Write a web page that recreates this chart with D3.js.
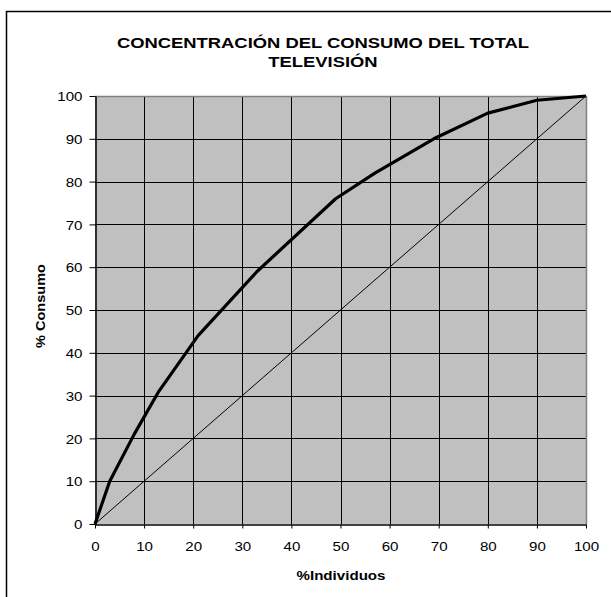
<!DOCTYPE html>
<html>
<head>
<meta charset="utf-8">
<script src="https://cdn.jsdelivr.net/npm/d3@7"></script>
<style>
  html, body { margin: 0; padding: 0; background: #fff; }
  svg { display: block; }
  text { font-family: Arial, "Liberation Sans", sans-serif; fill: #000; }
</style>
</head>
<body>
<svg id="chart" width="611" height="597"></svg>
<script>
// Lorenz-style concentration curve: % of individuals vs % of consumption
const individuos = [0, 3, 8, 13, 21, 33, 49, 57, 69, 80, 90, 100];
const consumo    = [0, 10, 21, 31, 44, 59, 76, 82, 90, 96, 99, 100];
// line of perfect equality
const igualdadX = [0, 100];
const igualdadY = [0, 100];
const ticks = [0, 10, 20, 30, 40, 50, 60, 70, 80, 90, 100];

const titulo = ["CONCENTRACIÓN DEL CONSUMO DEL TOTAL", "TELEVISIÓN"];
const ejeX = "%Individuos";
const ejeY = "% Consumo";

const svg = d3.select("#chart");
const plot = { left: 95, right: 586, top: 96, bottom: 524 };

const x = d3.scaleLinear().domain([0, 100]).range([plot.left, plot.right]);
const y = d3.scaleLinear().domain([0, 100]).range([plot.bottom, plot.top]);

// chart frame
svg.append("rect")
  .attr("x", 6.5).attr("y", 11.5)
  .attr("width", 700).attr("height", 700)
  .attr("fill", "#fff").attr("stroke", "#000").attr("stroke-width", 1.5);

// plot background
svg.append("rect")
  .attr("x", plot.left).attr("y", plot.top)
  .attr("width", plot.right - plot.left).attr("height", plot.bottom - plot.top)
  .attr("fill", "#c0c0c0");

// grid lines
const grid = svg.append("g");
grid.selectAll(".gx").data(ticks.slice(1, -1)).join("line")
  .attr("x1", d => Math.round(x(d)) + 0.5).attr("x2", d => Math.round(x(d)) + 0.5)
  .attr("y1", plot.top).attr("y2", plot.bottom)
  .attr("stroke", "#000").attr("stroke-width", 1);
grid.selectAll(".gy").data(ticks.slice(1, -1)).join("line")
  .attr("y1", d => Math.round(y(d)) + 0.5).attr("y2", d => Math.round(y(d)) + 0.5)
  .attr("x1", plot.left).attr("x2", plot.right)
  .attr("stroke", "#000").attr("stroke-width", 1);

// top and right edges of plot area
svg.append("path")
  .attr("d", `M${plot.left},${plot.top + 0.5}H${plot.right + 0.5}V${plot.bottom}`)
  .attr("fill", "none").attr("stroke", "#808080").attr("stroke-width", 1.5);

// axes
const digitW = 8.4;
const xAxis = svg.append("g")
  .attr("transform", `translate(0,${plot.bottom + 0.5})`)
  .call(d3.axisBottom(x).tickValues(ticks).tickSize(4).tickPadding(0).tickSizeOuter(0));
const yAxis = svg.append("g")
  .attr("transform", `translate(${plot.left + 0.5},0)`)
  .call(d3.axisLeft(y).tickValues(ticks).tickSize(6).tickPadding(0).tickSizeOuter(0));

[xAxis, yAxis].forEach(g => {
  g.select(".domain").attr("stroke", "#000").attr("stroke-width", 1.5);
  g.selectAll(".tick line").attr("stroke", "#000");
  g.selectAll(".tick text")
    .attr("font-size", 13.5)
    .attr("font-family", "Arial, 'Liberation Sans', sans-serif")
    .attr("textLength", d => String(d).length * digitW)
    .attr("lengthAdjust", "spacingAndGlyphs");
});
xAxis.selectAll(".tick text").attr("y", 26).attr("dy", null);
yAxis.selectAll(".tick text").attr("x", -13).attr("dy", "0.35em");

// curves
const line = d3.line().x(d => x(d[0])).y(d => y(d[1]));
svg.append("path")
  .datum(d3.zip(igualdadX, igualdadY))
  .attr("d", line)
  .attr("fill", "none").attr("stroke", "#000").attr("stroke-width", 1);
svg.append("path")
  .datum(d3.zip(individuos, consumo))
  .attr("d", line)
  .attr("fill", "none").attr("stroke", "#000").attr("stroke-width", 3.2)
  .attr("stroke-linejoin", "round");

// title: both lines share one horizontal stretch factor
const tituloT = svg.selectAll(".titulo").data(titulo).join("text")
  .attr("class", "titulo")
  .attr("x", 323).attr("y", (d, i) => 48 + i * 19)
  .attr("text-anchor", "middle")
  .attr("font-size", 15.5).attr("font-weight", "bold")
  .text(d => d);
const natural = tituloT.nodes().map(n => n.getComputedTextLength());
const k = 412 / natural[0];
tituloT
  .attr("textLength", (d, i) => natural[i] * k)
  .attr("lengthAdjust", "spacingAndGlyphs");

// axis titles
svg.append("text")
  .attr("x", 341).attr("y", 580)
  .attr("text-anchor", "middle")
  .attr("font-size", 13).attr("font-weight", "bold")
  .attr("textLength", 89).attr("lengthAdjust", "spacingAndGlyphs")
  .text(ejeX);
svg.append("text")
  .attr("transform", "translate(45,306) rotate(-90)")
  .attr("text-anchor", "middle")
  .attr("font-size", 13).attr("font-weight", "bold")
  .attr("textLength", 84).attr("lengthAdjust", "spacingAndGlyphs")
  .text(ejeY);
</script>
</body>
</html>
